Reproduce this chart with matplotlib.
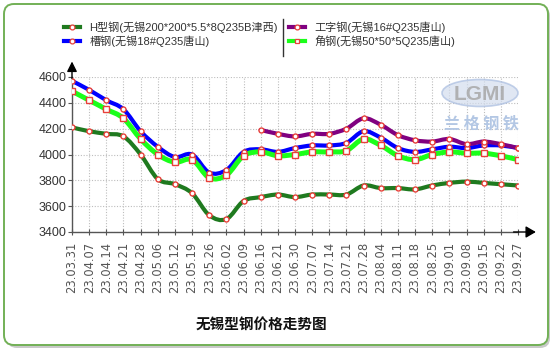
import numpy as np
import matplotlib.pyplot as plt
from matplotlib.path import Path
from matplotlib.patches import PathPatch, FancyBboxPatch, Ellipse
from matplotlib.lines import Line2D

plt.rcParams['font.family'] = ['Liberation Sans', 'Noto Sans CJK SC']

W, H = 554, 351

dates = ["23.03.31", "23.04.07", "23.04.14", "23.04.21", "23.04.28", "23.05.06",
         "23.05.12", "23.05.19", "23.05.26", "23.06.02", "23.06.09", "23.06.16",
         "23.06.21", "23.06.30", "23.07.07", "23.07.14", "23.07.21", "23.07.28",
         "23.08.04", "23.08.11", "23.08.18", "23.08.25", "23.09.01", "23.09.08",
         "23.09.15", "23.09.22", "23.09.27"]

h_beam = [4210, 4180, 4160, 4140, 4000, 3810, 3770, 3700, 3530, 3500, 3640, 3670,
          3690, 3670, 3690, 3690, 3690, 3760, 3740, 3740, 3730, 3760, 3780, 3790,
          3780, 3770, 3760]
channel = [4570, 4500, 4420, 4350, 4180, 4060, 3980, 4000, 3860, 3880, 4020, 4040,
           4020, 4050, 4070, 4070, 4090, 4180, 4130, 4050, 4020, 4040, 4060, 4050,
           4070, 4070, 4050]
i_beam = [None] * 11 + [4190, 4160, 4140, 4160, 4160, 4200, 4280, 4230, 4150, 4110,
                        4100, 4120, 4080, 4100, 4080, 4050]
angle = [4490, 4420, 4350, 4280, 4120, 4000, 3940, 3960, 3820, 3840, 3990, 4020,
         3990, 4000, 4020, 4020, 4030, 4120, 4070, 3990, 3960, 4000, 4020, 4010,
         4010, 3990, 3960]

series = [
    ("H型钢(无锡200*200*5.5*8Q235B津西)", h_beam, "#1f7a1f", "o"),
    ("槽钢(无锡18#Q235唐山)", channel, "#0000ff", "o"),
    ("工字钢(无锡16#Q235唐山)", i_beam, "#800080", "o"),
    ("角钢(无锡50*50*5Q235唐山)", angle, "#1aff1a", "s"),
]


def smooth_path(xs, ys):
    # Catmull-Rom curve through the points, as cubic bezier segments
    pts = np.column_stack([xs, ys]).astype(float)
    verts = [tuple(pts[0])]
    codes = [Path.MOVETO]
    n = len(pts)
    for i in range(n - 1):
        p0 = pts[max(i - 1, 0)]
        p1 = pts[i]
        p2 = pts[i + 1]
        p3 = pts[min(i + 2, n - 1)]
        verts += [tuple(p1 + (p2 - p0) / 6), tuple(p2 - (p3 - p1) / 6), tuple(p2)]
        codes += [Path.CURVE4] * 3
    return Path(verts, codes)


fig = plt.figure(figsize=(W / 100, H / 100), dpi=100)

# rounded frame with shadow
asp = W / H
shadow = FancyBboxPatch((7 / W, 1 - 348 / H), 543 / W, 342 / H,
                        boxstyle="round,pad=0,rounding_size=0.018", mutation_aspect=asp,
                        transform=fig.transFigure, facecolor="#c9c9c9", edgecolor="none",
                        zorder=-3)
frame = FancyBboxPatch((4 / W, 1 - 345 / H), 544 / W, 341 / H,
                       boxstyle="round,pad=0,rounding_size=0.018", mutation_aspect=asp,
                       transform=fig.transFigure, facecolor="white", edgecolor="#72b056",
                       linewidth=1.4, zorder=-2)
fig.patches += [shadow, frame]

ax = fig.add_axes([72 / W, 1 - 232 / H, 446 / W, 155 / H])
ax.set_facecolor("none")

x = np.arange(len(dates))
handles = []
for label, vals, color, mk in series:
    xs = [i for i, v in zip(x, vals) if v is not None]
    ys = [v for v in vals if v is not None]
    lw = 3.6 if mk == "s" else 3.0
    ax.add_patch(PathPatch(smooth_path(xs, ys), fill=False, edgecolor=color,
                           linewidth=lw, capstyle="round", joinstyle="round", zorder=3))
    ms = 4.3 if mk == "s" else 3.6
    ax.plot(xs, ys, linestyle="none", marker=mk, markersize=ms, markerfacecolor="white",
            markeredgecolor="#e8403a", markeredgewidth=1.0, zorder=4)
    handles.append(Line2D([], [], color=color, linewidth=3, marker=mk, markersize=3.5,
                          markerfacecolor="white", markeredgecolor="#e8403a",
                          markeredgewidth=0.9, label=label))

ax.set_xlim(0, 26)
ax.set_ylim(3400, 4600)
ax.set_xticks(x)
ax.set_xticklabels(dates, rotation=90, fontsize=8.3, color="#555555",
                   family="DejaVu Sans")
ax.set_yticks(np.arange(3400, 4601, 200))
ax.tick_params(axis="y", length=3, pad=1, labelsize=9, labelcolor="#333333",
               color="#555555")
ax.tick_params(axis="x", length=4, pad=5, direction="inout", color="#555555")
ax.grid(True, color="#bdbdbd", linestyle=(0, (1, 1.5)), linewidth=0.8)
ax.set_axisbelow(True)
for s in ["top", "right"]:
    ax.spines[s].set_visible(False)
for s in ["left", "bottom"]:
    ax.spines[s].set_color("#555555")
    ax.spines[s].set_linewidth(1.0)

# axis arrows
ax.annotate("", xy=(0, 1.1), xytext=(0, 0.99), xycoords="axes fraction",
            arrowprops=dict(arrowstyle="-|>,head_length=0.6,head_width=0.3",
                            color="black", lw=1.0, shrinkA=0, shrinkB=0),
            annotation_clip=False)
ax.annotate("", xy=(1.04, 0), xytext=(0.99, 0), xycoords="axes fraction",
            arrowprops=dict(arrowstyle="-|>,head_length=0.6,head_width=0.35",
                            color="black", lw=1.0, shrinkA=0, shrinkB=0),
            annotation_clip=False)

# watermark
fig.patches.append(Ellipse((480 / W, 1 - 93 / H), 76 / W, 27 / H, transform=fig.transFigure,
                           facecolor="#d3ddee", edgecolor="#a9bde0", linewidth=1.2,
                           alpha=0.7, zorder=5))
fig.text(480 / W, 1 - 94 / H, "LGMI", ha="center", va="center", fontsize=15,
         fontweight="bold", color="#a8a8a8", alpha=0.85, zorder=6)
fig.text(481 / W, 1 - 123 / H, "兰 格 钢 铁", ha="center", va="center", fontsize=11.5,
         color="#b3c7e4", family="Noto Sans CJK SC", fontweight="bold", zorder=6)

# legend
fig.legend(handles=handles, loc="upper left", bbox_to_anchor=(64 / W, 1 - 21 / H),
           ncol=2, frameon=False, fontsize=8, handlelength=1.45, handletextpad=0.85,
           columnspacing=1.0, labelspacing=0.25, borderpad=0, borderaxespad=0,
           labelcolor="#333333")
fig.add_artist(Line2D([283 / W, 283 / W], [1 - 19 / H, 1 - 56 / H], color="#333333",
                      linewidth=1.0, transform=fig.transFigure))

fig.text(261 / W, 1 - 325 / H, "无锡型钢价格走势图", ha="center", va="center",
         fontsize=10.5, fontweight="bold", family="Noto Sans CJK SC", color="#111111")

fig.savefig("out.png", dpi=100)
